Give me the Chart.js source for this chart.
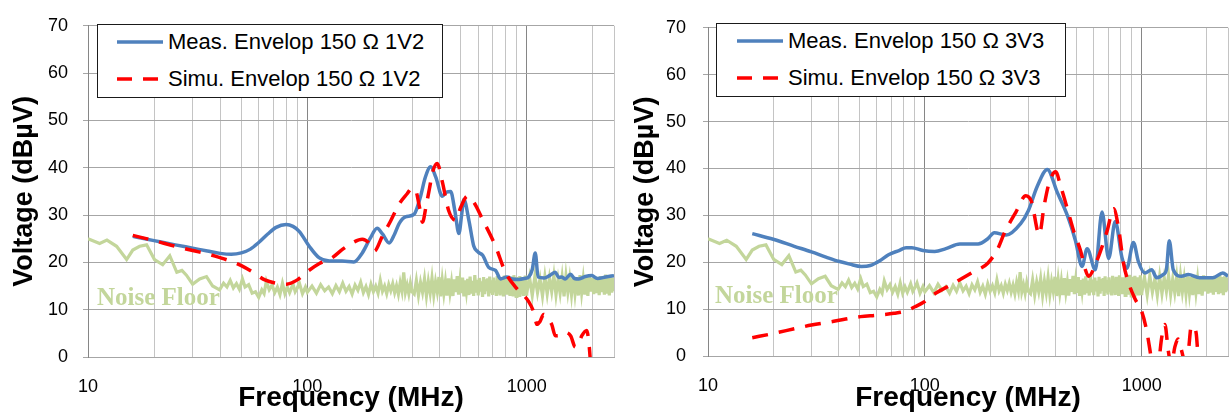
<!DOCTYPE html>
<html><head><meta charset="utf-8">
<script src="https://cdn.jsdelivr.net/npm/chart.js@4.4.1/dist/chart.umd.min.js"></script>
<style>
html,body{margin:0;padding:0;background:#fff;width:1229px;height:415px;overflow:hidden;font-family:'Liberation Sans',Arial,sans-serif;}
.wrap{position:absolute;top:0;height:415px;width:615px;}
canvas{display:block;}
.box{position:absolute;background:#fff;border:1px solid #1a1a1a;box-sizing:border-box;z-index:2;}
.lt{position:absolute;font-size:22px;line-height:22px;white-space:nowrap;color:#000;z-index:3;}
.nf{position:absolute;font-family:'Liberation Serif','Times New Roman',serif;font-weight:bold;font-size:25px;line-height:25px;color:#C3D69B;white-space:nowrap;z-index:3;}
svg{position:absolute;z-index:3;}
</style></head>
<body>
<div class="wrap" style="left:0"><canvas id="c1" width="615" height="415" style="width:615px;height:415px"></canvas></div>
<div class="wrap" style="left:614px"><canvas id="c2" width="615" height="415" style="width:615px;height:415px"></canvas></div>

<div class="box" style="left:97px;top:24px;width:346px;height:74px"></div>
<svg style="left:117px;top:38px" width="46" height="8"><line x1="0" y1="4" x2="46" y2="4" stroke="#4F81BD" stroke-width="3.5"/></svg>
<div class="lt" style="left:168px;top:31px">Meas. Envelop 150 Ω 1V2</div>
<svg style="left:117px;top:75px" width="46" height="8"><line x1="0" y1="4" x2="46" y2="4" stroke="#FF0000" stroke-width="3.5" stroke-dasharray="15 11"/></svg>
<div class="lt" style="left:168px;top:68px">Simu. Envelop 150 Ω 1V2</div>
<div class="nf" style="left:97px;top:284px">Noise Floor</div>

<div class="box" style="left:716px;top:23px;width:350px;height:74px"></div>
<svg style="left:737px;top:37px" width="46" height="8"><line x1="0" y1="4" x2="46" y2="4" stroke="#4F81BD" stroke-width="3.5"/></svg>
<div class="lt" style="left:788px;top:30px">Meas. Envelop 150 Ω 3V3</div>
<svg style="left:737px;top:74px" width="46" height="8"><line x1="0" y1="4" x2="46" y2="4" stroke="#FF0000" stroke-width="3.5" stroke-dasharray="15 11"/></svg>
<div class="lt" style="left:788px;top:67px">Simu. Envelop 150 Ω 3V3</div>
<div class="nf" style="left:715px;top:282px">Noise Floor</div>

<script>
// ---------- Axis ticks / titles ----------
const xGridValues = [10,20,30,40,50,60,70,80,90,100,200,300,400,500,600,700,800,900,1000,2000,2500];
const xTickLabels = [10,100,1000];
const yTickValues = [0,10,20,30,40,50,60,70];
const xTitle = 'Frequency (MHz)';
const yTitle = 'Voltage (dBµV)';

// ---------- 1V2 chart ----------
const meas1Freq = [16,20,25,30,35,40,45,50,55,60,66,72,80,86,92,102,113,126,144,163,178,193,208,220,236,250,262,280,307,327,345,365,385,412,430,450,470,491,505,517,545,574,600,630,672,721,760,811,860,920,980,1021,1060,1094,1127,1200,1280,1350,1400,1440,1500,1585,1650,1730,1850,1980,2100,2290,2500];
const meas1Val  = [25.5,24.6,23.7,23.0,22.4,21.9,21.7,22.0,22.8,24.2,26.0,27.4,28.0,27.6,26.5,23.4,21.0,20.3,20.3,20.1,22.0,25.0,27.2,26.0,24.1,26.0,28.2,29.6,30.2,33.7,38.0,40.2,38.0,34.0,34.8,35.0,31.0,26.1,30.0,33.3,28.9,23.4,22.2,21.5,18.9,18.3,16.5,16.9,16.5,16.4,16.6,16.9,18.5,22.0,16.9,16.7,17.3,17.9,16.8,16.9,16.5,17.5,16.6,16.5,17.0,17.2,16.6,16.9,17.2];
const simu1Freq = [16,20,25,30,35,40,45,50,57,64,72,80,90,99,113,130,145,160,178,190,202,219,240,262,285,300,312,325,335,348,360,372,391,412,441,474,500,536,574,627,721,800,900,1021,1076,1114,1150,1194,1250,1300,1350,1420,1478,1585,1666,1730,1784,1879,1920,1945,1990];
const simu1Val  = [25.7,24.6,23.4,22.5,21.8,21.0,20.2,19.3,17.8,16.3,15.6,15.4,16.3,17.9,19.7,21.0,22.8,24.1,24.9,24.2,22.4,25.4,28.8,32.3,34.5,35.7,35.2,31.5,28.5,32.0,35.5,39.0,40.9,37.1,30.9,28.9,31.6,34.0,32.7,29.2,23.4,17.9,14.5,11.7,9.5,6.9,7.5,9.0,8.0,6.9,4.5,4.6,5.2,4.5,2.1,3.0,4.5,5.6,3.0,0,-8];

// ---------- 3V3 chart ----------
const meas2Freq = [16,20,25,30,35,40,45,51,56,62,68,76,82,87,98,111,125,145,176,195,209,237,277,300,330,367,408,454,495,531,560,611,656,704,755,810,853,916,966,1035,1111,1172,1260,1300,1340,1398,1525,1640,1849,2130,2365,2500];
const meas2Val  = [26.1,24.9,23.4,22.2,21.1,20.2,19.6,19.1,19.3,20.3,21.6,22.5,23.1,23.1,22.5,22.3,22.9,23.9,23.9,25.0,26.3,25.8,28.3,31.0,36.2,39.8,34.9,30.0,24.6,19.1,22.9,18.4,30.7,20.8,28.7,21.1,18.7,24.2,20.1,17.7,18.4,16.7,17.4,18.4,24.6,18.4,17.0,17.4,16.7,16.7,17.7,17.0];
const simu2Freq = [16,20,25,30,38,50.5,60,72,82,90,99,109,137,165,195,217,233,263,292,310,337,355,374,401,423,454,486,522,550,568,622,692,742,782,824,860,931,1000,1054,1092,1130,1190,1237,1279,1325,1370,1421,1472,1520,1580,1640,1694,1740,1785,1817,1850];
const simu2Val  = [3.9,4.8,5.8,6.6,7.4,8.4,8.7,9.1,9.6,10.5,11.5,13.0,15.6,17.8,19.8,22.9,26.3,30.7,34.2,33.0,25.9,32.1,36.9,39.3,36.2,31.4,26.6,22.5,18.4,17.0,20.4,26.6,31.4,27.3,19.8,16.3,12.2,9.5,5.4,1.2,-3,-2,4.0,6.7,1.2,-2,1.9,3.6,1.5,-1,1.0,6.4,6.0,4.7,0,-5];

// ---------- Noise floor (shared) ----------
const noiseFreqLow = [10,11.3,12.2,13.5,15,16,17.2,18.5,20.1,21.9,23.6,25.4,26.8,28.1,30,32.3,34.7,37,39.8,41.5,43,44.5,46,47.5,49,50.6,52,54,56,58,60,62,63.5,65,67,69,71,73,75,77,79,81,83,86,88,90,92,95,98];
const noiseValLow  = [25,24,24.7,23.4,20.6,22.6,23.4,23.7,20.6,19.5,21.4,17.9,18.3,17.3,15.4,16.5,17,15,14.2,15.6,14.8,16.2,14.6,15.5,14.3,16.5,14.8,15.3,13.5,13.8,12.6,14.2,13.4,16,14.2,15.2,13.6,14.8,13.2,15.6,13.4,14.8,13.6,15.4,13.8,14.6,15.6,13.4,14.8];
const noiseFreqMid = [100,105,110,115,120,125,130,135,140,145,150,155,160,165,170,175,180,185,190,195,200,205,210,215,220,225,230,235,240,245,250,255,260,265,270,275,280,285,290,295,300];
const noiseValMid  = [13.7,15.0,13.5,15.3,14.0,14.8,13.4,15.1,13.8,15.6,13.9,14.9,13.3,15.2,14.1,15.8,13.6,14.9,13.2,15.4,13.8,15.0,13.5,16.2,13.9,15.0,13.4,15.3,14.0,15.5,13.6,15.1,13.3,15.7,13.9,17.9,13.7,15.2,13.4,15.6,13.8];
const noiseFreqHigh = [307,314,321,328,335,342,349,356,363,370,377,384,391,398,405,412,419,426,433,440,447,454,461,468,475,482,489,496,503,510,517,524,531,538,545,552,559,566,573,580,587,594,601,608,615,622,629,636,643,650,657,664,671,678,685,692,699,706,713,720,727,734,741,748,755,762,769,776,783,790,797,804,811,818,825,832,839,846,853,860,867,874,881,888,895,902,909,916,923,930,937,944,951,958,965,972,979,986,993];
const noiseValHigh  = [13.3,16.2,13.0,15.8,13.7,16.5,12.9,16.0,13.5,16.7,13.1,15.9,13.8,16.9,12.8,16.3,13.4,16.0,13.0,16.6,13.6,15.8,12.9,16.4,13.7,17.1,13.2,16.0,13.5,16.8,12.8,16.2,13.9,16.5,13.1,17.0,13.4,16.1,12.9,17.3,13.6,16.3,13.0,16.7,13.8,16.0,12.7,16.9,13.3,16.4,13.9,16.6,12.8,17.0,13.5,16.2,13.1,16.8,13.7,16.1,12.9,17.1,13.4,16.5,13.0,16.9,13.8,16.3,12.8,17.2,13.6,16.4,13.2,16.8,13.9,16.1,12.9,17.0,13.5,16.6,13.1,17.3,13.7,16.2,12.8,16.9,13.4,16.5,13.0,17.1,13.8,16.4,13.2,16.8,12.9,16.3,13.6,17.2,13.3];
const noiseFreqTop = [1000,1030,1060,1090,1120,1150,1180,1210,1240,1270,1300,1330,1360,1390,1420,1450,1480,1510,1540,1570,1600,1630,1660,1690,1720,1750,1780,1810,1840,1870,1900,1930,1960,1990,2020,2050,2080,2110,2140,2170,2200,2230,2260,2290,2320,2350,2380,2410,2440,2470,2500];
const noiseValTop  = [13.4,16.8,13.0,17.1,13.6,16.5,12.9,17.0,13.3,16.7,13.8,17.2,13.1,16.4,13.5,16.9,12.8,17.1,13.7,16.6,13.2,17.0,13.4,16.8,13.0,17.3,13.6,16.5,13.2,16.9,12.9,17.2,13.8,16.7,13.3,17.0,13.5,16.6,13.1,17.1,13.7,16.9,13.2,17.4,13.4,16.8,13.0,17.0,13.6,16.7,13.9];

const noiseFreq = noiseFreqLow.concat(noiseFreqMid, noiseFreqHigh, noiseFreqTop);
const noiseVal  = noiseValLow.concat(noiseValMid, noiseValHigh, noiseValTop);

function pts(fs, vs){ return fs.map((f,i)=>({x:f, y:vs[i]})); }

Chart.defaults.font.family = "'Liberation Sans', Arial, sans-serif";

function build(id, measF, measV, simuF, simuV, cfg){
  return new Chart(document.getElementById(id), {
    type:'line',
    data:{datasets:[
      {label:'Simu', data:pts(simuF, simuV), borderColor:'#FF0000', borderWidth:3.5, borderDash:[16,11], pointRadius:0, cubicInterpolationMode:'monotone', fill:false, order:1, clip:0},
      {label:'Meas', data:pts(measF, measV), borderColor:'#4F81BD', borderWidth:3.5, pointRadius:0, cubicInterpolationMode:'monotone', fill:false, order:2, clip:0},
      {label:'Noise Floor', data:pts(noiseFreq, noiseVal), borderColor:'#C3D69B', borderWidth:3.2, pointRadius:0, tension:0, fill:false, order:3, clip:0}
    ]},
    options:{
      responsive:false, animation:false, devicePixelRatio:1,
      layout:{padding:{top:cfg.top, right:1, bottom:0, left:0}},
      plugins:{legend:{display:false}, tooltip:{enabled:false}},
      scales:{
        x:{type:'logarithmic', min:10, max:2500,
          afterBuildTicks:(ax)=>{ ax.ticks = xGridValues.map(v=>({value:v})); },
          afterFit:(s)=>{ s.height = cfg.xh; s.paddingLeft = 0; s.paddingRight = 0; },
          ticks:{autoSkip:false, maxRotation:0, minRotation:0, padding:19, font:{size:18}, color:'#000',
                 callback:(v)=> xTickLabels.includes(v) ? String(v) : ''},
          grid:{drawTicks:false, lineWidth:1,
                color:(c)=> (c.tick && xTickLabels.includes(c.tick.value)) ? '#868686' : '#c4c4c4'},
          border:{display:true, color:'#a6a6a6'},
          title:{display:true, text:xTitle, font:{size:28, weight:'bold'}, color:'#000', padding:{top:0, bottom:0}}
        },
        y:{min:0, max:70,
          afterBuildTicks:(ax)=>{ ax.ticks = yTickValues.map(v=>({value:v})); },
          afterFit:(s)=>{ s.width = cfg.yw; },
          ticks:{padding:cfg.ytp, font:{size:18}, color:'#000'},
          grid:{color:'#a6a6a6', tickLength:5, drawTicks:true},
          border:{display:true, color:'#868686'},
          title:{display:true, text:yTitle, font:{size:27, weight:'bold'}, color:'#000', padding:{top:cfg.ytitle, bottom:0}}
        }
      }
    }
  });
}

build('c1', meas1Freq, meas1Val, simu1Freq, simu1Val, {top:17, xh:58, yw:88, ytp:15, ytitle:8});
build('c2', meas2Freq, meas2Val, simu2Freq, simu2Val, {top:16, xh:59, yw:94, ytp:17, ytitle:15});
</script>
</body></html>
